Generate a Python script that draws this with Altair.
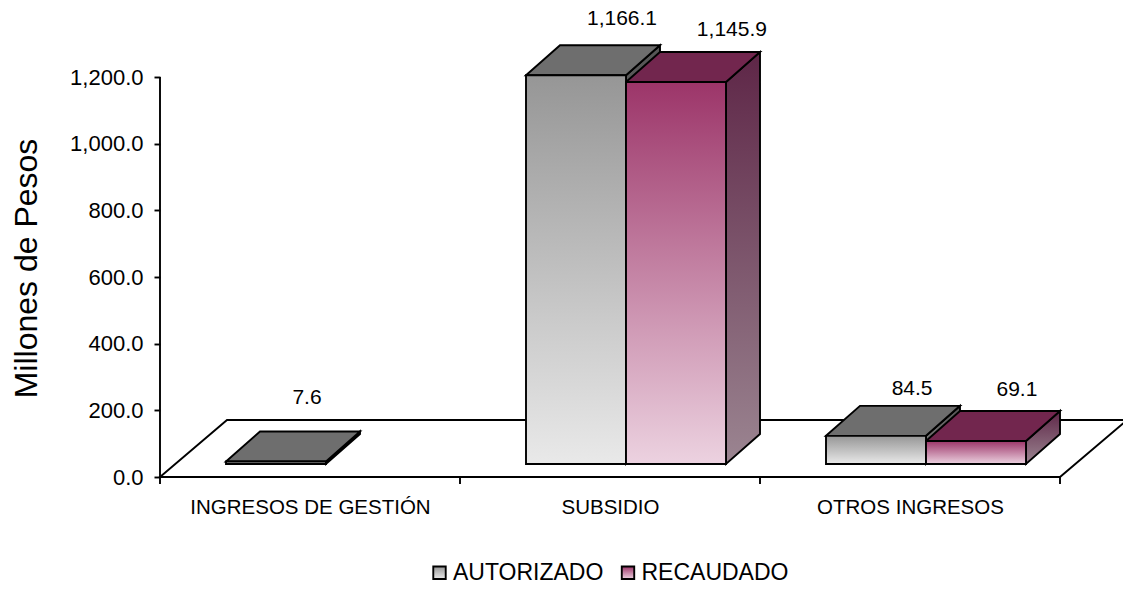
import altair as alt
import pandas as pd

categories = ["INGRESOS DE GESTIÓN", "SUBSIDIO", "OTROS INGRESOS"]
series = ["AUTORIZADO", "RECAUDADO"]
autorizado = [7.6, 1166.1, 84.5]
recaudado = [None, 1145.9, 69.1]
y_ticks = [0, 200, 400, 600, 800, 1000, 1200]

# pseudo-3D geometry in axis units (one category = 1, values in millions)
BAR_W = 1 / 3
INSET = 0.22
BASE = 39
DEPTH_X = 34 / 300
DEPTH_Y = 90
FLOOR_X = 67 / 300
FLOOR_Y = 171
X_MAX = 963 / 300
Y_MAX = 1401

# label nudges as (x, y) in axis units
nudges = {
    (0, 0): (-0.01, 99), (1, 0): (0.04, 78), (2, 0): (0.007, 51),
    (1, 1): (0.073, 66), (2, 1): (0.023, 63),
}

FONT = "Liberation Sans"
front_grad = {
    "AUTORIZADO": ("#969696", "#e9e9e9"),
    "RECAUDADO": ("#9c3569", "#ecd2e0"),
}
top_color = {"AUTORIZADO": "#6e6e6e", "RECAUDADO": "#72264e"}
side_grad = {"AUTORIZADO": ("#555555", "#8a8a8a"), "RECAUDADO": ("#5e2647", "#9b8591")}


def grad(a, b):
    return alt.Gradient(
        gradient="linear", x1=0, y1=0, x2=0, y2=1,
        stops=[alt.GradientStop(color=a, offset=0), alt.GradientStop(color=b, offset=1)],
    )


def grad_expr(a, b):
    return {"expr": "{gradient:'linear',x1:0,y1:0,x2:0,y2:1,stops:[{offset:0,color:'%s'},{offset:1,color:'%s'}]}" % (a, b)}


fronts, labels = [], []
tops = {s: [] for s in series}
sides = {s: [] for s in series}
for si, (s, vals) in enumerate(zip(series, [autorizado, recaudado])):
    for ci, v in enumerate(vals):
        if v is None:
            continue
        x0 = ci + INSET + si * BAR_W
        x1 = x0 + BAR_W
        t = BASE + v
        b = f"{s}-{ci}"
        fronts.append({"series": s, "x": x0, "x2": x1, "y": BASE, "y2": t})
        tops[s] += [
            {"b": b, "x": x0, "y": t, "y2": t},
            {"b": b, "x": x0 + DEPTH_X, "y": t + DEPTH_Y, "y2": t},
            {"b": b, "x": x1, "y": t + DEPTH_Y, "y2": t},
            {"b": b, "x": x1 + DEPTH_X, "y": t + DEPTH_Y, "y2": t + DEPTH_Y},
        ]
        sides[s] += [
            {"b": b, "x": x1, "y": t, "y2": BASE},
            {"b": b, "x": x1 + DEPTH_X, "y": t + DEPTH_Y, "y2": BASE + DEPTH_Y},
        ]
        nx, ny = nudges[(ci, si)]
        labels.append({"x": (x0 + x1) / 2 + DEPTH_X + nx, "y": t + DEPTH_Y + ny, "v": v})

sx = alt.Scale(domain=[0, X_MAX], nice=False, zero=False)
sy = alt.Scale(domain=[0, Y_MAX], nice=False, zero=False)
x_axis = alt.Axis(
    values=[0.5, 1.5, 2.5], grid=False, domain=False, tickSize=0, labelPadding=20, labelLimit=400,
    labelFont=FONT, labelFontSize=20.5, labelColor="#000000",
    labelExpr="%r[floor(datum.value)]" % categories,
)
y_axis = alt.Axis(
    values=y_ticks, format=",.1f", grid=False, domain=False, tickSize=6,
    tickColor="#000000", tickWidth=1.9, labelPadding=11,
    labelFont=FONT, labelFontSize=22, labelColor="#000000",
    titleFont=FONT, titleFontSize=32, titleFontWeight="normal", titleColor="#000000",
    titleX=-117, titleY=258,
)
X = alt.X("x:Q", scale=sx, axis=x_axis, title=None)
Y = alt.Y("y:Q", scale=sy, axis=y_axis, stack=None, title="Millones de Pesos")
EDGE = {"stroke": "#000000", "strokeWidth": 1.9}

floor_df = pd.DataFrame([
    {"x": 0, "y": 0, "y2": 0},
    {"x": FLOOR_X, "y": FLOOR_Y, "y2": 0},
    {"x": 3, "y": FLOOR_Y, "y2": 0},
    {"x": 3 + FLOOR_X, "y": FLOOR_Y, "y2": FLOOR_Y},
])
floor = alt.Chart(floor_df).mark_area(fill="#ffffff", interpolate="linear", **EDGE).encode(
    x=X, y=Y, y2="y2:Q"
)

yaxis_line = alt.Chart(pd.DataFrame({"x": [0], "y": [0], "y2": [y_ticks[-1]]})).mark_rule(**EDGE).encode(
    x=X, y=Y, y2="y2:Q"
)
x_ticks = alt.Chart(pd.DataFrame({"x": [0, 1, 2, 3]})).mark_rule(**EDGE).encode(
    x=X, y=alt.value(467), y2=alt.value(474)
)

layers = [floor, yaxis_line, x_ticks]
for s in series:
    layers.append(
        alt.Chart(pd.DataFrame(sides[s])).mark_area(
            fill=grad(*side_grad[s]), interpolate="linear", **EDGE
        ).encode(x=X, y=Y, y2="y2:Q", detail="b:N")
    )
    layers.append(
        alt.Chart(pd.DataFrame(tops[s])).mark_area(
            fill=top_color[s], interpolate="linear", **EDGE
        ).encode(x=X, y=Y, y2="y2:Q", detail="b:N")
    )

front = alt.Chart(pd.DataFrame(fronts)).mark_rect(**EDGE).encode(
    x=X, x2="x2:Q", y=Y, y2="y2:Q",
    color=alt.Color(
        "series:N",
        scale=alt.Scale(domain=series, range=[grad_expr(*front_grad[s]) for s in series]),
        legend=alt.Legend(
            title=None, orient="none", legendX=268, legendY=551, direction="horizontal",
            symbolType="square", symbolSize=155, symbolStrokeColor="#000000", symbolStrokeWidth=1.9,
            labelFont=FONT, labelFontSize=23, labelColor="#000000", labelOffset=2,
            columnPadding=12.5, symbolOpacity=1,
        ),
    ),
)
layers.append(front)

text = alt.Chart(pd.DataFrame(labels)).mark_text(
    font=FONT, fontSize=21, color="#000000", baseline="middle", align="center"
).encode(x=X, y=Y, text=alt.Text("v:Q", format=",.1f"))
layers.append(text)

chart = alt.layer(*layers).properties(
    width=963, height=467, autosize=alt.AutoSizeParams(type="none"),
    padding={"left": 152, "top": 2, "right": 0, "bottom": 105}, background="#ffffff"
).configure_view(stroke=None)

chart.save("out.html", embed_options={"renderer": "svg", "actions": False})
